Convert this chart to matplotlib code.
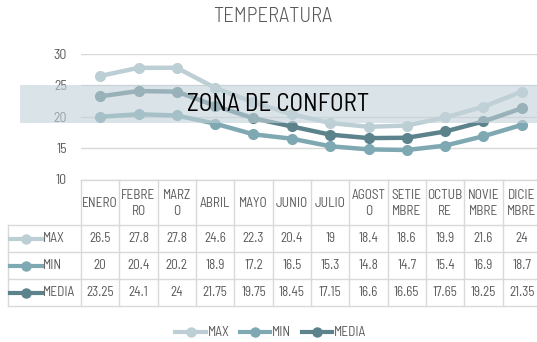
import matplotlib.pyplot as plt
import matplotlib.transforms as mtransforms
from matplotlib.patches import Rectangle
from matplotlib.lines import Line2D

plt.rcParams['font.family'] = ['Barlow Semi Condensed', 'DejaVu Sans']
plt.rcParams['font.weight'] = 'normal'

# Datos de temperatura por mes
meses = ['ENERO', 'FEBRE\nRO', 'MARZ\nO', 'ABRIL', 'MAYO', 'JUNIO', 'JULIO',
         'AGOST\nO', 'SETIE\nMBRE', 'OCTUB\nRE', 'NOVIE\nMBRE', 'DICIE\nMBRE']
t_max = [26.5, 27.8, 27.8, 24.6, 22.3, 20.4, 19, 18.4, 18.6, 19.9, 21.6, 24]
t_min = [20, 20.4, 20.2, 18.9, 17.2, 16.5, 15.3, 14.8, 14.7, 15.4, 16.9, 18.7]
t_media = [23.25, 24.1, 24, 21.75, 19.75, 18.45, 17.15, 16.6, 16.65, 17.65, 19.25, 21.35]
etiq_max = ['26.5', '27.8', '27.8', '24.6', '22.3', '20.4', '19', '18.4', '18.6', '19.9', '21.6', '24']
etiq_min = ['20', '20.4', '20.2', '18.9', '17.2', '16.5', '15.3', '14.8', '14.7', '15.4', '16.9', '18.7']
etiq_media = ['23.25', '24.1', '24', '21.75', '19.75', '18.45', '17.15', '16.6', '16.65', '17.65', '19.25', '21.35']
confort = (19, 25)

series = [('MAX', t_max, etiq_max, '#bccfd5'),
          ('MIN', t_min, etiq_min, '#7ea8b2'),
          ('MEDIA', t_media, etiq_media, '#5c828c')]

W, H = 537, 342
gris = '#595959'
borde = '#d9d9d9'

def caja(x0, y0, x1, y1):
    return [x0 / W, 1 - y1 / H, (x1 - x0) / W, (y1 - y0) / H]

fig = plt.figure(figsize=(W / 100, H / 100), dpi=100)

# Grafico de lineas
ax = fig.add_axes(caja(81, 54, 541, 179.5))
x = list(range(len(meses)))
for nombre, vals, _, color in series:
    ax.plot(x, vals, '-o', color=color, lw=3.2, ms=7, label=nombre, zorder=3)
ax.set_xlim(-0.5, 11.5)
ax.set_ylim(10, 30)
ax.set_yticks([10, 15, 20, 25, 30])
ax.set_xticks([])
ax.yaxis.grid(True, color=borde, lw=1)
ax.set_axisbelow(True)
for s in ax.spines.values():
    s.set_visible(False)
ax.tick_params(axis='y', length=0, pad=10, labelsize=10, labelcolor=gris)

# Franja de zona de confort, por encima de lineas y etiquetas
tr = mtransforms.blended_transform_factory(fig.transFigure, ax.transData)
fig.add_artist(Rectangle((20 / W, confort[0]), 1 - 20 / W, confort[1] - confort[0],
                         transform=tr, facecolor='#c2d1d8', alpha=0.6,
                         edgecolor='none', zorder=5))
fig.text(278 / W, sum(confort) / 2, 'ZONA DE CONFORT', transform=tr,
         ha='center', va='center', fontsize=18, color='black', zorder=6)

fig.text(273 / W, 1 - 17 / H, 'TEMPERATURA', ha='center', va='center',
         fontsize=15, weight=300, color=gris)

# Tabla de datos
tab = fig.add_axes([0, 0, 1, 1])
tab.set_xlim(0, W)
tab.set_ylim(H, 0)
tab.axis('off')
colw = 460 / 12
x0 = 81
filas = [180, 225, 252, 279, 306]
for i in range(13):
    tab.plot([x0 + i * colw] * 2, [filas[0], filas[-1]], color=borde, lw=1)
tab.plot([8, 8], [filas[1], filas[-1]], color=borde, lw=1)
tab.plot([x0, W + 5], [filas[0]] * 2, color=borde, lw=1)
for y in filas[1:]:
    tab.plot([8, W + 5], [y, y], color=borde, lw=1)

for i, m in enumerate(meses):
    tab.text(x0 + (i + 0.5) * colw, (filas[0] + filas[1]) / 2 + 1, m, ha='center',
             va='center', fontsize=9.5, color=gris, linespacing=1.3)

for r, (nombre, vals, etiq, color) in enumerate(series):
    yc = (filas[r + 1] + filas[r + 2]) / 2
    tab.plot([10, 42], [yc, yc], color=color, lw=3)
    tab.plot([26], [yc], 'o', color=color, ms=6.5)
    tab.text(43, yc, nombre, ha='left', va='center', fontsize=9.5, color=gris)
    for i, e in enumerate(etiq):
        tab.text(x0 + (i + 0.5) * colw, yc, e, ha='center', va='center',
                 fontsize=9.5, color=gris)

# Leyenda
handles = [Line2D([], [], color=c, lw=3, marker='o', ms=6.5) for _, _, _, c in series]
fig.legend(handles, [s[0] for s in series], loc='center', ncol=3,
           bbox_to_anchor=(271 / W, 1 - 333 / H), frameon=False, fontsize=9.5,
           labelcolor=gris, handlelength=2.3, handletextpad=0.15, columnspacing=0.8)

fig.savefig('out.png', dpi=100)
